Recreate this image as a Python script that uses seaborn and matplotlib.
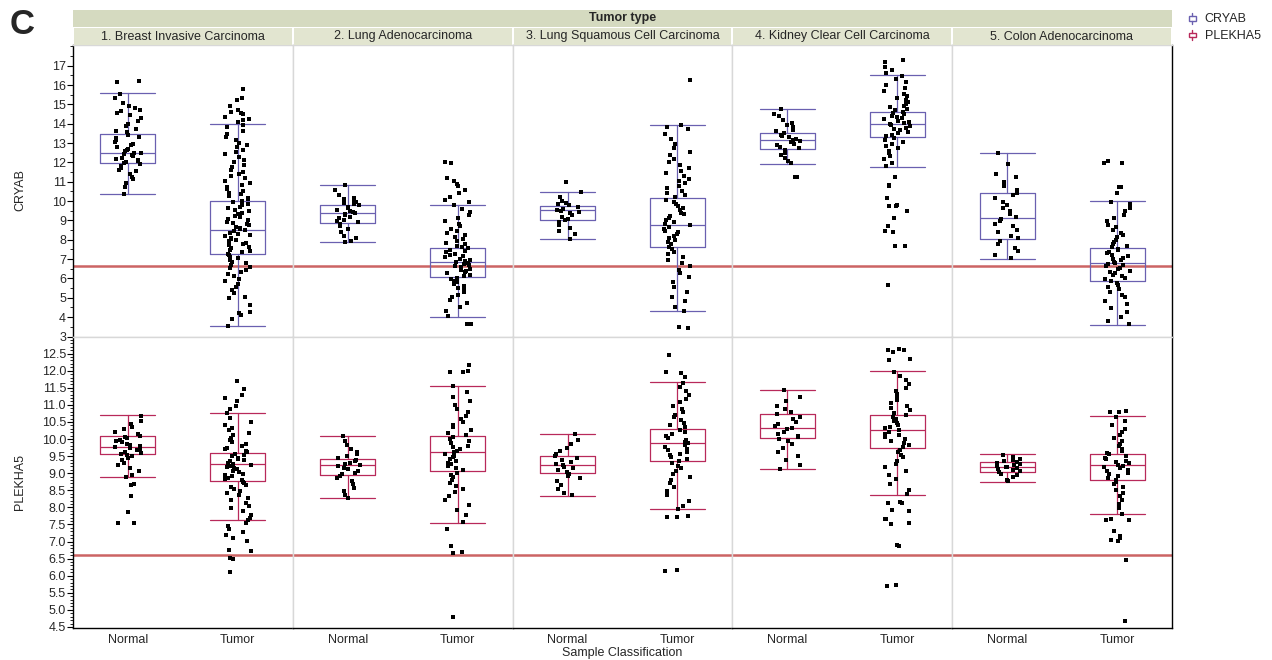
import matplotlib.pyplot as plt
import seaborn as sns
import pandas as pd
from matplotlib.patches import Rectangle, Patch
from matplotlib.lines import Line2D
from matplotlib.legend_handler import HandlerBase
from matplotlib.ticker import MultipleLocator, FormatStrFormatter

genes = ["CRYAB", "PLEKHA5"]
tumor_types = ["1. Breast Invasive Carcinoma", "2. Lung Adenocarcinoma",
               "3. Lung Squamous Cell Carcinoma", "4. Kidney Clear Cell Carcinoma",
               "5. Colon Adenocarcinoma"]
sample_classes = ["Normal", "Tumor"]
cutoff = 6.62

# box statistics, per tumor type: [Normal, Tumor]
cryab_whislo = [[10.37, 3.54], [7.86, 4.03], [8.05, 4.33], [11.94, 11.77], [7.03, 3.62]]
cryab_q1 = [[11.96, 7.26], [8.89, 6.07], [9.03, 7.65], [12.70, 13.30], [8.03, 5.88]]
cryab_med = [[12.49, 8.51], [9.37, 6.84], [9.55, 8.76], [13.15, 14.00], [9.12, 6.79]]
cryab_q3 = [[13.46, 9.98], [9.80, 7.60], [9.77, 10.17], [13.54, 14.59], [10.41, 7.58]]
cryab_whishi = [[15.60, 14.00], [10.82, 9.79], [10.46, 13.95], [14.75, 16.50], [12.50, 9.98]]

plekha5_whislo = [[8.88, 7.64], [8.27, 7.54], [8.34, 7.95], [9.11, 8.37], [8.75, 7.80]]
plekha5_q1 = [[9.55, 8.77], [8.94, 9.07], [9.00, 9.36], [10.02, 9.75], [9.04, 8.80]]
plekha5_med = [[9.76, 9.27], [9.23, 9.62], [9.23, 9.87], [10.32, 10.26], [9.19, 9.23]]
plekha5_q3 = [[10.09, 9.58], [9.42, 10.09], [9.49, 10.28], [10.72, 10.70], [9.33, 9.55]]
plekha5_whishi = [[10.69, 10.76], [10.09, 11.56], [10.16, 11.66], [11.44, 11.98], [9.55, 10.66]]

# sample values estimated from the dot clouds
cryab_brca_normal = [16.21, 16.18, 15.52, 15.34, 15.08, 14.93, 14.81, 14.72, 14.66, 14.55, 14.47, 14.31,
                     14.12, 13.98, 13.87, 13.74, 13.62, 13.55, 13.41, 13.33, 13.27, 13.15, 13.08, 12.96,
                     12.88, 12.79, 12.71, 12.63, 12.58, 12.51, 12.47, 12.42, 12.36, 12.31, 12.25, 12.19,
                     12.14, 12.08, 12.02, 11.97, 11.91, 11.84, 11.73, 11.62, 11.55, 11.41, 11.27, 11.12,
                     10.96, 10.74, 10.38]
cryab_brca_tumor = [15.82, 15.31, 15.22, 14.93, 14.71, 14.62, 14.55, 14.48, 14.36, 14.27, 14.18, 14.09,
                    13.96, 13.81, 13.64, 13.47, 13.31, 13.18, 13.02, 12.91, 12.78, 12.64, 12.52, 12.41,
                    12.28, 12.13, 12.01, 11.88, 11.76, 11.63, 11.52, 11.41, 11.29, 11.17, 11.06, 10.94,
                    10.83, 10.72, 10.61, 10.53, 10.44, 10.36, 10.27, 10.18, 10.09, 10.02, 9.95, 9.87,
                    9.79, 9.71, 9.63, 9.55, 9.47, 9.39, 9.31, 9.24, 9.16, 9.08, 9.01, 8.94, 8.87, 8.81,
                    8.74, 8.67, 8.61, 8.55, 8.49, 8.43, 8.37, 8.31, 8.24, 8.18, 8.11, 8.05, 7.98, 7.92,
                    7.85, 7.78, 7.71, 7.64, 7.57, 7.49, 7.42, 7.35, 7.28, 7.21, 7.13, 7.04, 6.96, 6.87,
                    6.78, 6.69, 6.61, 6.52, 6.43, 6.33, 6.22, 6.11, 5.98, 5.86, 5.73, 5.58, 5.42, 5.27,
                    5.05, 4.97, 4.61, 4.28, 4.21, 4.12, 3.91, 3.55]
cryab_luad_normal = [10.81, 10.55, 10.31, 10.18, 10.09, 10.02, 9.96, 9.91, 9.85, 9.79, 9.71, 9.64, 9.55,
                     9.48, 9.42, 9.37, 9.33, 9.26, 9.18, 9.11, 9.04, 8.97, 8.91, 8.84, 8.73, 8.58, 8.42,
                     8.21, 8.09, 7.93, 7.87]
cryab_luad_tumor = [12.00, 11.97, 11.21, 11.05, 10.88, 10.76, 10.58, 10.41, 10.23, 10.07, 9.93, 9.78,
                    9.61, 9.44, 9.28, 9.12, 8.97, 8.83, 8.71, 8.58, 8.46, 8.35, 8.24, 8.13, 8.03, 7.94,
                    7.85, 7.77, 7.69, 7.62, 7.55, 7.48, 7.41, 7.35, 7.28, 7.22, 7.16, 7.09, 7.03, 6.97,
                    6.91, 6.86, 6.81, 6.75, 6.69, 6.63, 6.57, 6.51, 6.45, 6.39, 6.33, 6.26, 6.19, 6.12,
                    6.05, 5.97, 5.89, 5.81, 5.72, 5.63, 5.52, 5.41, 5.29, 5.16, 5.02, 4.87, 4.71, 4.53,
                    4.32, 4.08, 3.67, 3.65]
cryab_lusc_normal = [10.98, 10.45, 10.21, 10.02, 9.91, 9.84, 9.78, 9.72, 9.67, 9.61, 9.56, 9.51, 9.44,
                     9.36, 9.27, 9.17, 9.08, 9.01, 8.92, 8.78, 8.63, 8.47, 8.28, 8.06]
cryab_lusc_tumor = [16.26, 13.94, 13.82, 13.71, 13.49, 13.22, 12.97, 12.74, 12.55, 12.36, 12.18, 12.01,
                    11.86, 11.72, 11.57, 11.43, 11.29, 11.16, 11.03, 10.91, 10.78, 10.66, 10.54, 10.42,
                    10.31, 10.19, 10.08, 9.96, 9.85, 9.74, 9.63, 9.52, 9.41, 9.31, 9.21, 9.11, 9.01,
                    8.92, 8.83, 8.74, 8.65, 8.56, 8.47, 8.38, 8.28, 8.18, 8.08, 7.98, 7.87, 7.76, 7.64,
                    7.52, 7.39, 7.26, 7.12, 6.97, 6.81, 6.64, 6.46, 6.27, 6.06, 5.83, 5.58, 5.31, 5.04,
                    4.81, 4.55, 4.34, 3.48, 3.46]
cryab_kirc_normal = [14.74, 14.52, 14.38, 14.21, 14.06, 13.93, 13.81, 13.70, 13.61, 13.52, 13.44, 13.37,
                     13.29, 13.22, 13.16, 13.10, 13.03, 12.96, 12.88, 12.80, 12.72, 12.63, 12.51, 12.38,
                     12.22, 12.07, 11.95, 11.26, 11.24]
cryab_kirc_tumor = [17.32, 17.18, 16.95, 16.78, 16.62, 16.48, 16.31, 16.14, 15.98, 15.83, 15.69, 15.56,
                    15.44, 15.33, 15.22, 15.12, 15.03, 14.94, 14.86, 14.78, 14.70, 14.63, 14.56, 14.49,
                    14.42, 14.35, 14.29, 14.22, 14.16, 14.10, 14.04, 13.98, 13.92, 13.86, 13.80, 13.73,
                    13.66, 13.59, 13.52, 13.44, 13.36, 13.27, 13.18, 13.08, 12.97, 12.86, 12.74, 12.61,
                    12.47, 12.32, 12.16, 11.98, 11.80, 11.27, 10.81, 10.77, 10.16, 9.79, 9.77, 9.74,
                    9.51, 9.13, 8.72, 8.44, 8.41, 7.70, 7.67, 5.67]
cryab_coad_normal = [12.48, 11.90, 11.42, 11.25, 10.98, 10.77, 10.58, 10.43, 10.31, 10.14, 9.97, 9.82,
                     9.64, 9.47, 9.31, 9.18, 9.09, 8.97, 8.84, 8.69, 8.53, 8.38, 8.21, 8.08, 7.94, 7.76,
                     7.58, 7.41, 7.22, 7.05]
cryab_coad_tumor = [12.06, 11.99, 11.95, 10.74, 10.71, 10.42, 9.97, 9.83, 9.66, 9.48, 9.30, 9.12, 8.95,
                    8.79, 8.64, 8.50, 8.37, 8.24, 8.12, 8.01, 7.90, 7.80, 7.70, 7.61, 7.53, 7.45, 7.37,
                    7.30, 7.22, 7.15, 7.08, 7.01, 6.94, 6.87, 6.81, 6.75, 6.68, 6.62, 6.55, 6.48, 6.41,
                    6.34, 6.27, 6.19, 6.11, 6.03, 5.95, 5.86, 5.77, 5.67, 5.56, 5.44, 5.31, 5.17, 5.02,
                    4.86, 4.68, 4.49, 4.27, 4.01, 3.78, 3.63]

plekha5_brca_normal = [10.68, 10.52, 10.43, 10.35, 10.28, 10.21, 10.15, 10.10, 10.06, 10.02, 9.98, 9.94,
                       9.90, 9.86, 9.82, 9.79, 9.76, 9.73, 9.70, 9.67, 9.63, 9.60, 9.57, 9.53, 9.49, 9.44,
                       9.38, 9.31, 9.23, 9.14, 9.05, 8.96, 8.89, 8.69, 8.65, 8.34, 7.86, 7.55, 7.53]
plekha5_brca_tumor = [11.69, 11.47, 11.28, 11.21, 11.12, 10.97, 10.88, 10.75, 10.62, 10.50, 10.41, 10.33,
                      10.25, 10.18, 10.11, 10.04, 9.98, 9.92, 9.86, 9.80, 9.75, 9.70, 9.65, 9.61, 9.57,
                      9.53, 9.49, 9.45, 9.42, 9.38, 9.35, 9.31, 9.28, 9.25, 9.21, 9.18, 9.14, 9.11, 9.07,
                      9.03, 8.99, 8.95, 8.91, 8.87, 8.83, 8.79, 8.75, 8.70, 8.65, 8.60, 8.54, 8.48, 8.42,
                      8.35, 8.28, 8.21, 8.13, 8.05, 7.97, 7.88, 7.79, 7.70, 7.63, 7.54, 7.45, 7.36, 7.27,
                      7.18, 7.09, 7.01, 6.76, 6.72, 6.53, 6.49, 6.10]
plekha5_luad_normal = [10.08, 9.94, 9.82, 9.71, 9.62, 9.55, 9.49, 9.44, 9.39, 9.35, 9.31, 9.27, 9.24, 9.20,
                       9.16, 9.12, 9.07, 9.02, 8.97, 8.92, 8.85, 8.77, 8.68, 8.58, 8.47, 8.36, 8.28]
plekha5_luad_tumor = [12.18, 11.99, 11.97, 11.95, 11.54, 11.38, 11.24, 11.11, 10.99, 10.88, 10.78, 10.68,
                      10.59, 10.50, 10.42, 10.34, 10.26, 10.19, 10.12, 10.05, 9.99, 9.93, 9.87, 9.81,
                      9.76, 9.71, 9.66, 9.61, 9.56, 9.51, 9.46, 9.41, 9.36, 9.31, 9.26, 9.20, 9.14, 9.08,
                      9.02, 8.95, 8.88, 8.80, 8.72, 8.63, 8.54, 8.44, 8.33, 8.21, 8.08, 7.93, 7.77, 7.58,
                      7.37, 6.86, 6.68, 6.66, 4.78]
plekha5_lusc_normal = [10.15, 9.98, 9.85, 9.74, 9.65, 9.57, 9.50, 9.44, 9.38, 9.33, 9.28, 9.23, 9.19, 9.14,
                       9.09, 9.04, 8.99, 8.93, 8.86, 8.77, 8.66, 8.54, 8.42, 8.35]
plekha5_lusc_tumor = [12.46, 11.96, 11.94, 11.82, 11.65, 11.52, 11.40, 11.28, 11.17, 11.07, 10.97, 10.88,
                      10.79, 10.71, 10.63, 10.55, 10.48, 10.41, 10.34, 10.27, 10.21, 10.15, 10.09, 10.03,
                      9.97, 9.92, 9.87, 9.82, 9.77, 9.72, 9.67, 9.62, 9.57, 9.52, 9.47, 9.41, 9.35, 9.29,
                      9.22, 9.15, 9.07, 8.99, 8.90, 8.81, 8.71, 8.60, 8.48, 8.35, 8.20, 8.04, 7.96, 7.74,
                      7.72, 7.71, 6.17, 6.15]
plekha5_kirc_normal = [11.43, 11.24, 11.10, 10.98, 10.87, 10.79, 10.72, 10.65, 10.58, 10.51, 10.45, 10.39,
                       10.33, 10.28, 10.22, 10.16, 10.10, 10.05, 10.00, 9.93, 9.84, 9.74, 9.63, 9.51,
                       9.38, 9.25, 9.12]
plekha5_kirc_tumor = [12.63, 12.61, 12.60, 12.55, 12.33, 12.31, 11.97, 11.84, 11.72, 11.61, 11.50, 11.40,
                      11.31, 11.22, 11.14, 11.06, 10.98, 10.91, 10.84, 10.77, 10.71, 10.65, 10.59, 10.53,
                      10.47, 10.41, 10.36, 10.31, 10.26, 10.21, 10.16, 10.11, 10.06, 10.00, 9.94, 9.88,
                      9.82, 9.76, 9.69, 9.62, 9.54, 9.46, 9.37, 9.28, 9.18, 9.07, 8.95, 8.82, 8.68, 8.52,
                      8.38, 8.16, 8.14, 8.13, 7.92, 7.90, 7.67, 7.65, 7.53, 7.51, 6.90, 6.88, 5.72, 5.70]
plekha5_coad_normal = [9.54, 9.47, 9.42, 9.38, 9.35, 9.32, 9.29, 9.26, 9.23, 9.21, 9.19, 9.17, 9.14, 9.12,
                       9.09, 9.06, 9.03, 8.99, 8.94, 8.88, 8.81, 8.76]
plekha5_coad_tumor = [10.81, 10.80, 10.78, 10.65, 10.52, 10.41, 10.30, 10.20, 10.11, 10.02, 9.94, 9.86,
                      9.79, 9.72, 9.66, 9.60, 9.55, 9.50, 9.45, 9.41, 9.37, 9.33, 9.29, 9.25, 9.22, 9.18,
                      9.14, 9.10, 9.06, 9.02, 8.97, 8.92, 8.87, 8.81, 8.75, 8.68, 8.60, 8.52, 8.43, 8.33,
                      8.22, 8.10, 7.97, 7.82, 7.65, 7.63, 7.62, 7.32, 7.17, 7.10, 7.04, 7.02, 6.45, 4.67]

values = {
    "CRYAB": [(cryab_brca_normal, cryab_brca_tumor), (cryab_luad_normal, cryab_luad_tumor),
              (cryab_lusc_normal, cryab_lusc_tumor), (cryab_kirc_normal, cryab_kirc_tumor),
              (cryab_coad_normal, cryab_coad_tumor)],
    "PLEKHA5": [(plekha5_brca_normal, plekha5_brca_tumor), (plekha5_luad_normal, plekha5_luad_tumor),
                (plekha5_lusc_normal, plekha5_lusc_tumor), (plekha5_kirc_normal, plekha5_kirc_tumor),
                (plekha5_coad_normal, plekha5_coad_tumor)],
}
box_stats = {
    "CRYAB": (cryab_whislo, cryab_q1, cryab_med, cryab_q3, cryab_whishi),
    "PLEKHA5": (plekha5_whislo, plekha5_q1, plekha5_med, plekha5_q3, plekha5_whishi),
}
gene_colors = {"CRYAB": "#6a60b0", "PLEKHA5": "#b8295a"}
line_color = "#cc6464"
sep_color = "#d8d8d8"


class BoxHandler(HandlerBase):
    # small box-with-whiskers glyph for the legend
    def create_artists(self, legend, orig_handle, xdescent, ydescent, width, height, fontsize, trans):
        col = orig_handle.get_edgecolor()
        cx = width / 2 - xdescent
        box = Rectangle((cx - width * 0.35, -ydescent + height * 0.2), width * 0.7, height * 0.45,
                        facecolor="white", edgecolor=col, linewidth=1, transform=trans)
        top = Line2D([cx, cx], [-ydescent + height * 0.65, -ydescent + height * 1.0],
                     color=col, linewidth=1, transform=trans)
        bot = Line2D([cx, cx], [-ydescent - height * 0.1, -ydescent + height * 0.2],
                     color=col, linewidth=1, transform=trans)
        return [box, top, bot]


sns.set_style("white")
plt.rcParams['font.family'] = ['Liberation Sans', 'DejaVu Sans']
plt.rcParams['font.size'] = 9

W, H = 1272, 660
fig, axes = plt.subplots(2, 5, figsize=(W / 100, H / 100), dpi=100, sharey='row')
fig.subplots_adjust(left=73 / W, right=1172 / W, top=1 - 45 / H, bottom=1 - 628 / H,
                    wspace=0, hspace=0)

for r, gene in enumerate(genes):
    col = gene_colors[gene]
    lo, q1, med, q3, hi = box_stats[gene]
    for c in range(len(tumor_types)):
        ax = axes[r, c]
        normal, tumor = values[gene][c]
        df = pd.DataFrame({"Sample": ["Normal"] * len(normal) + ["Tumor"] * len(tumor),
                           "value": normal + tumor})
        stats = [dict(whislo=lo[c][k], q1=q1[c][k], med=med[c][k], q3=q3[c][k],
                      whishi=hi[c][k], fliers=[]) for k in range(2)]
        lp = dict(color=col, linewidth=0.9)
        ax.bxp(stats, positions=[0, 1], widths=0.5, capwidths=0.5, showfliers=False,
               boxprops=lp, whiskerprops=lp, capprops=lp, medianprops=lp, manage_ticks=False)
        ax.axhline(cutoff, color=line_color, linewidth=1.8, zorder=1)
        sns.stripplot(data=df, x="Sample", y="value", order=sample_classes, ax=ax,
                      color="black", marker="s", size=2.7, linewidth=0, jitter=0.12, zorder=3)
        ax.set_xlim(-0.5, 1.5)
        ax.set_xlabel("")
        ax.set_ylabel("")
        ax.set_xticks([0, 1])
        if r == 1:
            ax.set_xticklabels(sample_classes, fontsize=9)
        else:
            ax.set_xticklabels([])
        ax.tick_params(axis="x", length=0, pad=4)
        for side in ["left", "right", "top", "bottom"]:
            ax.spines[side].set_visible(True)
            ax.spines[side].set_color(sep_color)
            ax.spines[side].set_linewidth(1)
        if c == 0:
            ax.spines["left"].set_color("black")
        if c == 4:
            ax.spines["right"].set_color("black")
        if r == 1:
            ax.spines["bottom"].set_color("black")
        if c > 0:
            ax.tick_params(axis="y", left=False, which="both")

axes[0, 0].set_ylim(3.0, 18.07)
axes[0, 0].set_yticks(list(range(3, 18)))
axes[0, 0].yaxis.set_minor_locator(MultipleLocator(0.5))
axes[1, 0].set_ylim(4.47, 13.0)
axes[1, 0].set_yticks([4.5 + 0.5 * i for i in range(17)])
axes[1, 0].yaxis.set_major_formatter(FormatStrFormatter("%.1f"))
axes[1, 0].yaxis.set_minor_locator(MultipleLocator(0.1))
for r in range(2):
    axes[r, 0].tick_params(axis="y", which="major", left=True, length=4, width=0.8,
                           color="black", labelsize=9, pad=1)
    axes[r, 0].tick_params(axis="y", which="minor", left=True, length=2, width=0.6, color="black")


# header bars
def px_rect(x0, y0, x1, y1, color):
    fig.add_artist(Rectangle((x0 / W, 1 - y1 / H), (x1 - x0) / W, (y1 - y0) / H,
                             transform=fig.transFigure, facecolor=color, edgecolor="none"))


px_rect(73, 10, 1172, 27, "#d5dac0")
edges = [73, 293, 513, 732, 952, 1172]
for c, name in enumerate(tumor_types):
    px_rect(edges[c] + 1, 28, edges[c + 1] - 1, 45, "#e2e5d0")
    fig.text((edges[c] + edges[c + 1]) / 2 / W, 1 - 36.5 / H, name, ha="center", va="center",
             fontsize=9)
fig.text(622.5 / W, 1 - 18.5 / H, "Tumor type", ha="center", va="center", fontsize=9,
         fontweight="bold")

fig.text(10 / W, 1 - 8 / H, "C", ha="left", va="top", fontsize=25, fontweight="bold")
fig.text(20 / W, 1 - 190 / H, "CRYAB", rotation=90, ha="center", va="center", fontsize=9)
fig.text(20 / W, 1 - 482 / H, "PLEKHA5", rotation=90, ha="center", va="center", fontsize=9)
fig.text(622.5 / W, 1 - 653 / H, "Sample Classification", ha="center", va="center", fontsize=9)

handles = [Patch(facecolor="white", edgecolor=gene_colors[g], linewidth=1) for g in genes]
fig.legend(handles, genes, loc="upper left", bbox_to_anchor=(1182 / W, 1 - 8 / H),
           frameon=False, fontsize=9, handlelength=0.8, handleheight=0.8,
           handletextpad=0.6, labelspacing=0.35, borderaxespad=0,
           handler_map={Patch: BoxHandler()})

fig.savefig("out.png", dpi=100)
